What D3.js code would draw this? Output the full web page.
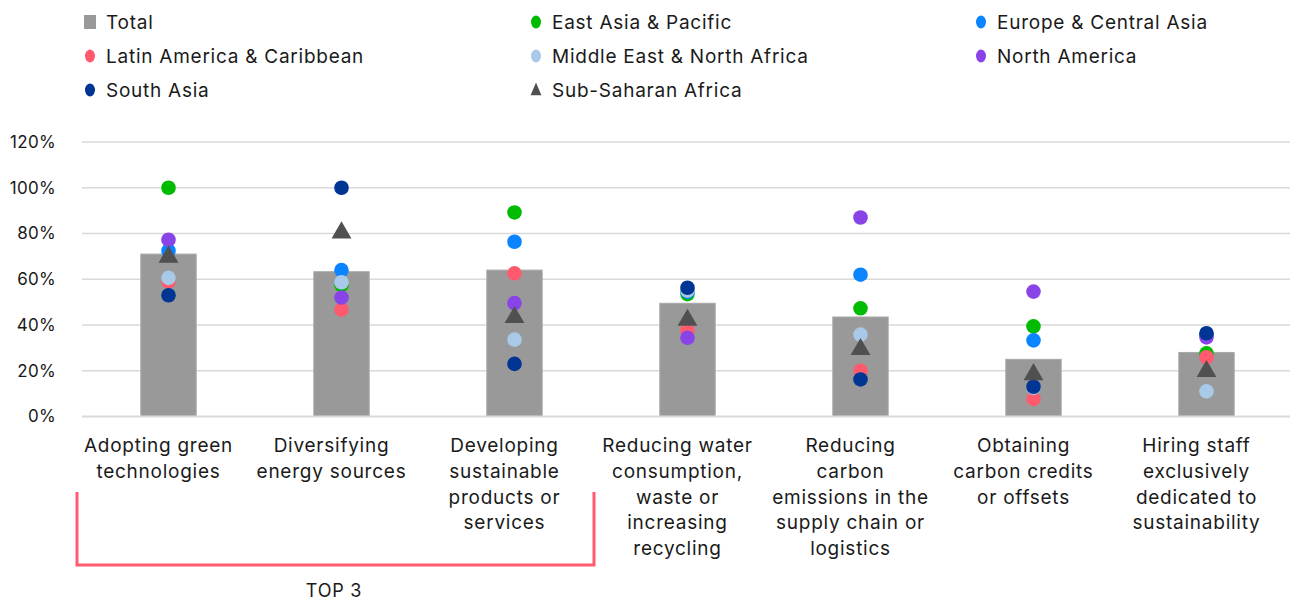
<!DOCTYPE html>
<html>
<head>
<meta charset="utf-8">
<script src="https://cdn.jsdelivr.net/npm/d3@7"></script>
<style>
  html, body { margin: 0; padding: 0; background: #ffffff; }
  svg { display: block; font-family: Inter, "Open Sans", sans-serif; }
</style>
</head>
<body>
<svg id="chart" width="1290" height="602"></svg>
<script>
// Sustainability actions by region: share of firms (%)
const categories = [
  ["Adopting green", "technologies"],
  ["Diversifying", "energy sources"],
  ["Developing", "sustainable", "products or", "services"],
  ["Reducing water", "consumption,", "waste or", "increasing", "recycling"],
  ["Reducing", "carbon", "emissions in the", "supply chain or", "logistics"],
  ["Obtaining", "carbon credits", "or offsets"],
  ["Hiring staff", "exclusively", "dedicated to", "sustainability"]
];
const total     = [71, 63.3, 64, 49.5, 43.5, 25, 28];
const eastAsia  = [100, 57.5, 89.2, 53.5, 47.3, 39.4, 27.6];
const europe    = [72.5, 64, 76.4, 54.5, 62, 33.3, 36];
const latinAm   = [59, 46.7, 62.6, 37.5, 20, 7.7, 25.9];
const mena      = [60.6, 58.7, 33.6, 55, 35.8, 12.5, 11];
const northAm   = [77.3, 52, 49.6, 34.4, 87, 54.6, 34.6];
const southAsia = [53, 100, 23, 56.3, 16.2, 13, 36.4];
const ssa       = [70.4, 81, 44, 42.8, 30, 19, 20.4];
const yTicks = [0, 20, 40, 60, 80, 100, 120];

const series = [
  { name: "East Asia & Pacific", values: eastAsia, color: "#00bb00", shape: "circle" },
  { name: "Europe & Central Asia", values: europe, color: "#0a84ff", shape: "circle" },
  { name: "Latin America & Caribbean", values: latinAm, color: "#ff5a6e", shape: "circle" },
  { name: "Middle East & North Africa", values: mena, color: "#a9c9e9", shape: "circle" },
  { name: "North America", values: northAm, color: "#8844e6", shape: "circle" },
  { name: "South Asia", values: southAsia, color: "#003594", shape: "circle" },
  { name: "Sub-Saharan Africa", values: ssa, color: "#505050", shape: "triangle" }
];

const textStyle = sel => sel
  .attr("font-size", 19).attr("letter-spacing", 0.75).attr("fill", "#1a1a1a");

const svg = d3.select("#chart");
const margin = { left: 82, right: -3, top: 142, bottom: 416.5 };

const x = d3.scaleBand()
  .domain(d3.range(categories.length))
  .range([margin.left, 1290 - margin.right])
  .paddingInner(0.68).paddingOuter(0.34);

const y = d3.scaleLinear().domain([0, 120]).range([margin.bottom, margin.top]);

// gridlines
svg.append("g")
  .selectAll("line")
  .data(yTicks.filter(d => d > 0))
  .join("line")
  .attr("x1", margin.left).attr("x2", 1290)
  .attr("y1", d => y(d)).attr("y2", d => y(d))
  .attr("stroke", "#d9d9d9").attr("stroke-width", 1.5);

// y axis labels
const yAxis = d3.axisLeft(y).tickValues(yTicks).tickFormat(d => d + "%").tickSize(0).tickPadding(0);
const yg = svg.append("g").attr("transform", "translate(56,0)").call(yAxis);
yg.select(".domain").remove();
yg.selectAll("text")
  .attr("font-size", 17).attr("letter-spacing", 0.3).attr("fill", "#1a1a1a")
  .attr("font-family", "Inter, sans-serif");

// bars (Total)
svg.append("g")
  .selectAll("rect")
  .data(total)
  .join("rect")
  .attr("x", (d, i) => x(i))
  .attr("width", x.bandwidth())
  .attr("y", d => y(d))
  .attr("height", d => y(0) - y(d))
  .attr("fill", "#999999")
  .attr("stroke", "#a8a8a8").attr("stroke-width", 1);

// x axis baseline
svg.append("line")
  .attr("x1", margin.left).attr("x2", 1290)
  .attr("y1", y(0)).attr("y2", y(0))
  .attr("stroke", "#d9d9d9").attr("stroke-width", 2);

// region markers
const cx = i => x(i) + x.bandwidth() / 2;
const tri = d3.symbol().type(d3.symbolTriangle).size(170);
series.forEach(s => {
  const g = svg.append("g");
  if (s.shape === "circle") {
    g.selectAll("circle").data(s.values).join("circle")
      .attr("cx", (d, i) => cx(i)).attr("cy", d => y(d))
      .attr("r", 7.3).attr("fill", s.color);
  } else {
    g.selectAll("path").data(s.values).join("path")
      .attr("d", tri)
      .attr("transform", (d, i) => `translate(${cx(i)},${y(d) + 1.5})`)
      .attr("fill", s.color);
  }
});

// category labels (set slightly left of the bar centres)
const labelShift = -10;
const xg = svg.append("g");
categories.forEach((lines, i) => {
  const t = xg.append("text")
    .attr("x", cx(i) + labelShift).attr("y", 452)
    .attr("text-anchor", "middle")
    .call(textStyle);
  lines.forEach((ln, k) => {
    t.append("tspan").attr("x", cx(i) + labelShift).attr("dy", k === 0 ? 0 : 25.8).text(ln);
  });
});

// TOP 3 bracket
svg.append("path")
  .attr("d", d3.line()([[77, 492], [77, 565], [594, 565], [594, 492]]))
  .attr("fill", "none").attr("stroke", "#ff5a6e").attr("stroke-width", 3);
svg.append("text")
  .attr("x", 334).attr("y", 597)
  .attr("text-anchor", "middle")
  .call(textStyle)
  .attr("font-size", 18)
  .text("TOP 3");

// legend
const legendItems = [{ name: "Total", color: "#999999", shape: "rect" }].concat(series);
const colX = [90, 536, 981];
const rowY = [22, 56, 90];
const lg = svg.append("g");
legendItems.forEach((item, k) => {
  const lx = colX[k % 3], ly = rowY[Math.floor(k / 3)];
  if (item.shape === "rect") {
    lg.append("rect").attr("x", lx - 6).attr("y", ly - 7).attr("width", 12).attr("height", 14).attr("fill", item.color);
  } else if (item.shape === "circle") {
    lg.append("ellipse").attr("cx", lx).attr("cy", ly).attr("rx", 5).attr("ry", 6.5).attr("fill", item.color);
  } else {
    lg.append("path").attr("d", d3.symbol().type(d3.symbolTriangle).size(70))
      .attr("transform", `translate(${lx},${ly + 1}) scale(0.85,1.15)`).attr("fill", item.color);
  }
  lg.append("text")
    .attr("x", lx + 16).attr("y", ly)
    .attr("dy", "0.35em")
    .call(textStyle)
    .text(item.name);
});
</script>
</body>
</html>
